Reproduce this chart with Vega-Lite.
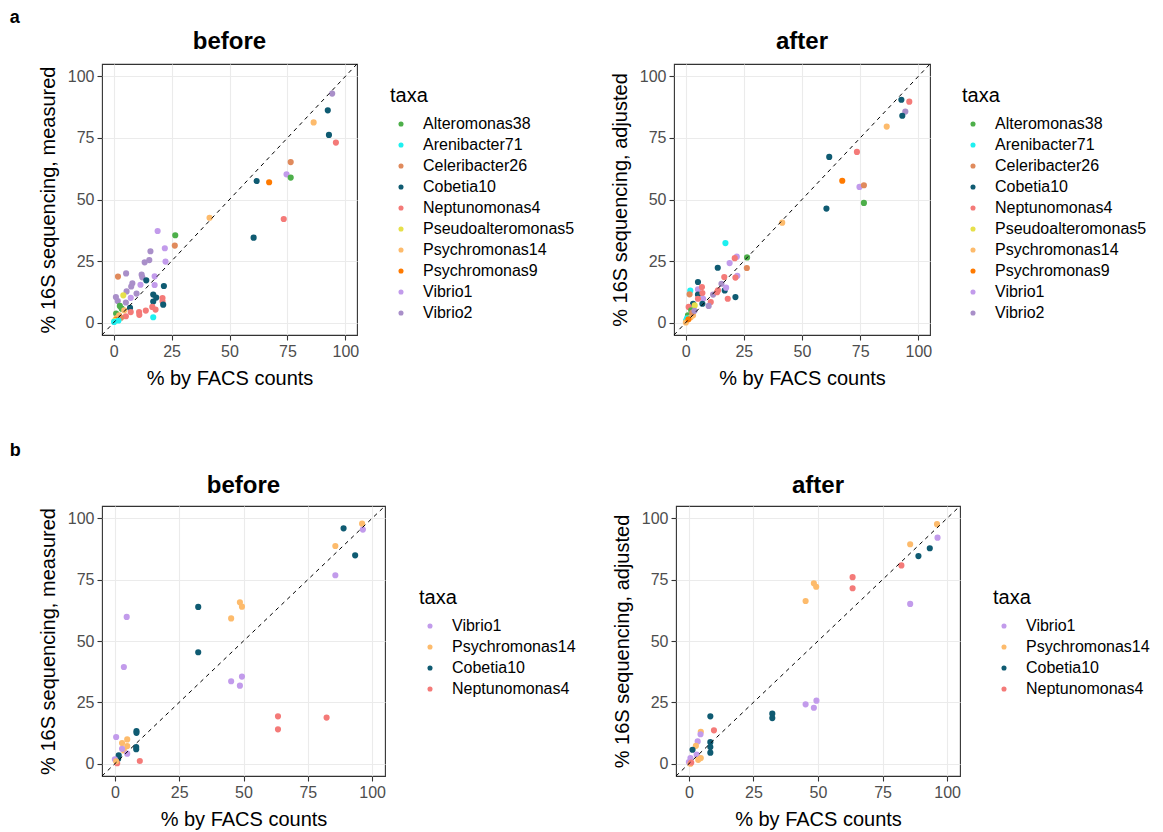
{
  "$schema": "https://vega.github.io/schema/vega-lite/v6.json",
  "background": "white",
  "padding": {"left": 9, "top": 8, "right": 5, "bottom": 5},
  "spacing": 52,
  "config": {
    "font": "Liberation Sans",
    "view": {"stroke": "#333333", "strokeWidth": 1.1},
    "axis": {"domain": false, "grid": true, "gridColor": "#ebebeb", "tickColor": "#333333", "tickSize": 5, "tickWidth": 1.1, "labelFontSize": 16, "labelColor": "#4d4d4d", "labelPadding": 3, "labelOverlap": false, "labelFlush": false, "titleFontSize": 20, "titleFontWeight": "normal", "titleColor": "black", "titlePadding": 9},
    "title": {"fontSize": 24, "fontWeight": "bold", "color": "black", "offset": 10},
    "legend": {"titleFontSize": 20, "titleFontWeight": "normal", "titleColor": "black", "labelFontSize": 16, "labelColor": "black", "symbolType": "circle", "symbolSize": 26, "symbolStrokeWidth": 0, "rowPadding": 5, "padding": 0, "titlePadding": 10, "symbolOffset": 3, "labelOffset": 14},
    "concat": {"spacing": 30}
  },
  "datasets": {
    "a_before": [
      {"taxa": "Vibrio2", "facs": 94.3, "seq": 93.0},
      {"taxa": "Cobetia10", "facs": 92.4, "seq": 86.2},
      {"taxa": "Psychromonas14", "facs": 86.3, "seq": 81.3},
      {"taxa": "Cobetia10", "facs": 92.9, "seq": 76.2},
      {"taxa": "Neptunomonas4", "facs": 95.9, "seq": 73.1},
      {"taxa": "Celeribacter26", "facs": 76.4, "seq": 65.2},
      {"taxa": "Vibrio1", "facs": 74.6, "seq": 60.2},
      {"taxa": "Alteromonas38", "facs": 76.4, "seq": 58.9},
      {"taxa": "Cobetia10", "facs": 61.7, "seq": 57.5},
      {"taxa": "Psychromonas9", "facs": 67.1, "seq": 57.0},
      {"taxa": "Neptunomonas4", "facs": 73.4, "seq": 42.1},
      {"taxa": "Psychromonas14", "facs": 41.4, "seq": 42.6},
      {"taxa": "Cobetia10", "facs": 60.4, "seq": 34.5},
      {"taxa": "Vibrio1", "facs": 19.0, "seq": 37.2},
      {"taxa": "Alteromonas38", "facs": 26.6, "seq": 35.5},
      {"taxa": "Celeribacter26", "facs": 26.4, "seq": 31.3},
      {"taxa": "Vibrio1", "facs": 22.1, "seq": 30.2},
      {"taxa": "Vibrio2", "facs": 15.9, "seq": 29.0},
      {"taxa": "Vibrio2", "facs": 15.4, "seq": 25.4},
      {"taxa": "Vibrio2", "facs": 13.4, "seq": 24.5},
      {"taxa": "Vibrio1", "facs": 22.4, "seq": 24.8},
      {"taxa": "Celeribacter26", "facs": 1.9, "seq": 18.7},
      {"taxa": "Vibrio2", "facs": 5.4, "seq": 20.0},
      {"taxa": "Vibrio2", "facs": 12.1, "seq": 19.5},
      {"taxa": "Vibrio2", "facs": 12.4, "seq": 18.4},
      {"taxa": "Cobetia10", "facs": 14.1, "seq": 17.2},
      {"taxa": "Vibrio1", "facs": 17.7, "seq": 18.8},
      {"taxa": "Vibrio2", "facs": 8.1, "seq": 16.0},
      {"taxa": "Vibrio2", "facs": 7.6, "seq": 14.7},
      {"taxa": "Vibrio1", "facs": 11.6, "seq": 15.4},
      {"taxa": "Vibrio1", "facs": 17.7, "seq": 15.3},
      {"taxa": "Cobetia10", "facs": 21.7, "seq": 14.9},
      {"taxa": "Vibrio2", "facs": 5.6, "seq": 12.7},
      {"taxa": "Vibrio2", "facs": 9.9, "seq": 11.8},
      {"taxa": "Cobetia10", "facs": 17.1, "seq": 11.4},
      {"taxa": "Cobetia10", "facs": 18.4, "seq": 10.2},
      {"taxa": "Neptunomonas4", "facs": 21.1, "seq": 10.0},
      {"taxa": "Neptunomonas4", "facs": 21.1, "seq": 8.7},
      {"taxa": "Cobetia10", "facs": 17.1, "seq": 8.6},
      {"taxa": "Cobetia10", "facs": 21.4, "seq": 7.3},
      {"taxa": "Pseudoalteromonas5", "facs": 4.2, "seq": 11.1},
      {"taxa": "Vibrio2", "facs": 1.0, "seq": 10.4},
      {"taxa": "Vibrio2", "facs": 1.8, "seq": 8.8},
      {"taxa": "Vibrio1", "facs": 7.4, "seq": 10.1},
      {"taxa": "Vibrio2", "facs": 5.3, "seq": 8.2},
      {"taxa": "Cobetia10", "facs": 7.1, "seq": 6.0},
      {"taxa": "Neptunomonas4", "facs": 11.0, "seq": 4.3},
      {"taxa": "Neptunomonas4", "facs": 11.1, "seq": 3.2},
      {"taxa": "Neptunomonas4", "facs": 13.9, "seq": 4.9},
      {"taxa": "Neptunomonas4", "facs": 16.7, "seq": 6.4},
      {"taxa": "Neptunomonas4", "facs": 18.1, "seq": 5.3},
      {"taxa": "Neptunomonas4", "facs": 7.4, "seq": 4.3},
      {"taxa": "Neptunomonas4", "facs": 5.3, "seq": 2.6},
      {"taxa": "Arenibacter71", "facs": 17.1, "seq": 2.2},
      {"taxa": "Alteromonas38", "facs": 2.7, "seq": 6.8},
      {"taxa": "Alteromonas38", "facs": 3.5, "seq": 5.7},
      {"taxa": "Alteromonas38", "facs": 1.1, "seq": 3.7},
      {"taxa": "Psychromonas14", "facs": 4.6, "seq": 5.0},
      {"taxa": "Psychromonas14", "facs": 2.4, "seq": 3.0},
      {"taxa": "Psychromonas14", "facs": 1.3, "seq": 1.9},
      {"taxa": "Celeribacter26", "facs": 3.2, "seq": 2.0},
      {"taxa": "Psychromonas9", "facs": 1.0, "seq": 1.2},
      {"taxa": "Pseudoalteromonas5", "facs": 0.5, "seq": 0.8},
      {"taxa": "Arenibacter71", "facs": 0.2, "seq": 0.3},
      {"taxa": "Arenibacter71", "facs": 2.1, "seq": 0.9}
    ],
    "a_after": [
      {"taxa": "Cobetia10", "facs": 92.7, "seq": 90.5},
      {"taxa": "Neptunomonas4", "facs": 96.1, "seq": 89.7},
      {"taxa": "Vibrio2", "facs": 94.4, "seq": 85.7},
      {"taxa": "Cobetia10", "facs": 93.1, "seq": 84.0},
      {"taxa": "Psychromonas14", "facs": 86.4, "seq": 79.6},
      {"taxa": "Cobetia10", "facs": 61.7, "seq": 67.3},
      {"taxa": "Neptunomonas4", "facs": 73.6, "seq": 69.3},
      {"taxa": "Psychromonas9", "facs": 67.3, "seq": 57.6},
      {"taxa": "Vibrio1", "facs": 74.7, "seq": 55.1},
      {"taxa": "Celeribacter26", "facs": 76.6, "seq": 55.8},
      {"taxa": "Alteromonas38", "facs": 76.6, "seq": 48.6},
      {"taxa": "Cobetia10", "facs": 60.5, "seq": 46.3},
      {"taxa": "Psychromonas14", "facs": 41.5, "seq": 40.6},
      {"taxa": "Arenibacter71", "facs": 17.1, "seq": 32.3},
      {"taxa": "Alteromonas38", "facs": 26.4, "seq": 26.5},
      {"taxa": "Celeribacter26", "facs": 26.3, "seq": 22.2},
      {"taxa": "Vibrio1", "facs": 22.0, "seq": 26.8},
      {"taxa": "Neptunomonas4", "facs": 21.1, "seq": 26.2},
      {"taxa": "Vibrio1", "facs": 18.9, "seq": 24.2},
      {"taxa": "Cobetia10", "facs": 13.8, "seq": 22.3},
      {"taxa": "Vibrio1", "facs": 22.2, "seq": 19.0},
      {"taxa": "Neptunomonas4", "facs": 21.4, "seq": 18.3},
      {"taxa": "Neptunomonas4", "facs": 16.6, "seq": 18.5},
      {"taxa": "Cobetia10", "facs": 5.3, "seq": 16.5},
      {"taxa": "Cobetia10", "facs": 21.4, "seq": 10.4},
      {"taxa": "Neptunomonas4", "facs": 18.1, "seq": 9.7},
      {"taxa": "Cobetia10", "facs": 16.8, "seq": 13.1},
      {"taxa": "Vibrio2", "facs": 15.4, "seq": 15.8},
      {"taxa": "Vibrio1", "facs": 17.4, "seq": 14.2},
      {"taxa": "Neptunomonas4", "facs": 13.9, "seq": 13.1},
      {"taxa": "Vibrio2", "facs": 11.8, "seq": 11.4},
      {"taxa": "Neptunomonas4", "facs": 13.5, "seq": 12.4},
      {"taxa": "Arenibacter71", "facs": 2.0, "seq": 13.0},
      {"taxa": "Celeribacter26", "facs": 1.7, "seq": 11.5},
      {"taxa": "Vibrio1", "facs": 5.3, "seq": 13.5},
      {"taxa": "Neptunomonas4", "facs": 7.0, "seq": 14.5},
      {"taxa": "Cobetia10", "facs": 5.3, "seq": 11.4},
      {"taxa": "Neptunomonas4", "facs": 7.2, "seq": 12.0},
      {"taxa": "Vibrio1", "facs": 7.5, "seq": 9.7},
      {"taxa": "Neptunomonas4", "facs": 5.3, "seq": 9.7},
      {"taxa": "Neptunomonas4", "facs": 10.8, "seq": 8.4},
      {"taxa": "Vibrio2", "facs": 9.9, "seq": 6.8},
      {"taxa": "Cobetia10", "facs": 3.2, "seq": 7.7},
      {"taxa": "Cobetia10", "facs": 7.2, "seq": 7.7},
      {"taxa": "Neptunomonas4", "facs": 1.3, "seq": 6.4},
      {"taxa": "Pseudoalteromonas5", "facs": 3.9, "seq": 7.0},
      {"taxa": "Alteromonas38", "facs": 1.0, "seq": 3.0},
      {"taxa": "Alteromonas38", "facs": 2.4, "seq": 5.0},
      {"taxa": "Psychromonas14", "facs": 3.2, "seq": 3.0},
      {"taxa": "Psychromonas14", "facs": 2.2, "seq": 2.2},
      {"taxa": "Arenibacter71", "facs": 0.2, "seq": 0.9},
      {"taxa": "Arenibacter71", "facs": 0.6, "seq": 1.8},
      {"taxa": "Psychromonas14", "facs": 0.1, "seq": 0.1},
      {"taxa": "Celeribacter26", "facs": 2.8, "seq": 4.0},
      {"taxa": "Psychromonas9", "facs": 1.2, "seq": 1.4},
      {"taxa": "Vibrio2", "facs": 3.8, "seq": 4.8}
    ],
    "b_before": [
      {"taxa": "Psychromonas14", "facs": 96.1, "seq": 97.8},
      {"taxa": "Vibrio1", "facs": 96.4, "seq": 95.4},
      {"taxa": "Cobetia10", "facs": 88.9, "seq": 95.9},
      {"taxa": "Psychromonas14", "facs": 85.7, "seq": 88.7},
      {"taxa": "Cobetia10", "facs": 93.4, "seq": 84.9},
      {"taxa": "Vibrio1", "facs": 85.7, "seq": 76.8},
      {"taxa": "Cobetia10", "facs": 32.4, "seq": 63.9},
      {"taxa": "Psychromonas14", "facs": 48.6, "seq": 65.8},
      {"taxa": "Psychromonas14", "facs": 49.4, "seq": 64.0},
      {"taxa": "Psychromonas14", "facs": 45.2, "seq": 59.2},
      {"taxa": "Vibrio1", "facs": 4.6, "seq": 59.8},
      {"taxa": "Vibrio1", "facs": 3.5, "seq": 39.4},
      {"taxa": "Cobetia10", "facs": 32.4, "seq": 45.4},
      {"taxa": "Vibrio1", "facs": 45.2, "seq": 33.6},
      {"taxa": "Vibrio1", "facs": 49.4, "seq": 35.5},
      {"taxa": "Vibrio1", "facs": 48.6, "seq": 31.8},
      {"taxa": "Neptunomonas4", "facs": 63.4, "seq": 19.3},
      {"taxa": "Neptunomonas4", "facs": 63.4, "seq": 14.0},
      {"taxa": "Neptunomonas4", "facs": 82.3, "seq": 18.8},
      {"taxa": "Neptunomonas4", "facs": 9.7, "seq": 1.1},
      {"taxa": "Cobetia10", "facs": 8.4, "seq": 13.3},
      {"taxa": "Cobetia10", "facs": 8.4, "seq": 12.6},
      {"taxa": "Cobetia10", "facs": 8.3, "seq": 6.8},
      {"taxa": "Cobetia10", "facs": 8.3, "seq": 5.9},
      {"taxa": "Vibrio1", "facs": 0.5, "seq": 10.9},
      {"taxa": "Psychromonas14", "facs": 4.8, "seq": 9.9},
      {"taxa": "Psychromonas14", "facs": 2.8, "seq": 8.4},
      {"taxa": "Psychromonas14", "facs": 4.8, "seq": 7.2},
      {"taxa": "Psychromonas14", "facs": 3.5, "seq": 5.4},
      {"taxa": "Vibrio1", "facs": 2.8, "seq": 6.1},
      {"taxa": "Vibrio1", "facs": 4.8, "seq": 4.1},
      {"taxa": "Cobetia10", "facs": 1.5, "seq": 3.4},
      {"taxa": "Cobetia10", "facs": 1.3, "seq": 2.0},
      {"taxa": "Vibrio1", "facs": 0.0, "seq": 1.8},
      {"taxa": "Neptunomonas4", "facs": 0.9, "seq": 0.2},
      {"taxa": "Psychromonas14", "facs": 0.5, "seq": 1.0}
    ],
    "b_after": [
      {"taxa": "Psychromonas14", "facs": 96.1, "seq": 97.6},
      {"taxa": "Vibrio1", "facs": 96.3, "seq": 92.1},
      {"taxa": "Psychromonas14", "facs": 85.7, "seq": 89.4},
      {"taxa": "Cobetia10", "facs": 93.3, "seq": 87.8},
      {"taxa": "Cobetia10", "facs": 88.9, "seq": 84.6},
      {"taxa": "Neptunomonas4", "facs": 82.3, "seq": 80.8},
      {"taxa": "Neptunomonas4", "facs": 63.4, "seq": 76.0},
      {"taxa": "Neptunomonas4", "facs": 63.4, "seq": 71.5},
      {"taxa": "Vibrio1", "facs": 85.7, "seq": 65.1},
      {"taxa": "Psychromonas14", "facs": 48.4, "seq": 73.5},
      {"taxa": "Psychromonas14", "facs": 49.3, "seq": 72.1},
      {"taxa": "Psychromonas14", "facs": 45.2, "seq": 66.3},
      {"taxa": "Vibrio1", "facs": 49.4, "seq": 25.7},
      {"taxa": "Vibrio1", "facs": 45.2, "seq": 24.2},
      {"taxa": "Vibrio1", "facs": 48.4, "seq": 22.8},
      {"taxa": "Cobetia10", "facs": 32.3, "seq": 20.4},
      {"taxa": "Cobetia10", "facs": 32.3, "seq": 18.6},
      {"taxa": "Cobetia10", "facs": 8.3, "seq": 19.3},
      {"taxa": "Neptunomonas4", "facs": 9.7, "seq": 13.6},
      {"taxa": "Psychromonas14", "facs": 4.6, "seq": 13.0},
      {"taxa": "Vibrio1", "facs": 4.5, "seq": 12.0},
      {"taxa": "Vibrio1", "facs": 3.4, "seq": 9.1},
      {"taxa": "Psychromonas14", "facs": 2.7, "seq": 7.3},
      {"taxa": "Cobetia10", "facs": 1.4, "seq": 5.7},
      {"taxa": "Cobetia10", "facs": 8.3, "seq": 8.8},
      {"taxa": "Cobetia10", "facs": 8.3, "seq": 6.8},
      {"taxa": "Cobetia10", "facs": 8.3, "seq": 4.5},
      {"taxa": "Vibrio1", "facs": 3.0, "seq": 3.7},
      {"taxa": "Psychromonas14", "facs": 4.6, "seq": 2.3},
      {"taxa": "Psychromonas14", "facs": 3.6, "seq": 1.6},
      {"taxa": "Vibrio1", "facs": 0.6, "seq": 2.3},
      {"taxa": "Vibrio1", "facs": 0.0, "seq": 0.7},
      {"taxa": "Psychromonas14", "facs": 0.6, "seq": 0.0},
      {"taxa": "Neptunomonas4", "facs": 0.9, "seq": 0.5}
    ]
  },
  "vconcat": [
    {
      "title": {"text": "a", "anchor": "start", "frame": "bounds", "fontSize": 18, "dx": -28, "offset": 2},
      "spacing": 33,
      "resolve": {"scale": {"color": "independent"}, "legend": {"color": "independent"}},
      "hconcat": [
        {
          "width": 255, "height": 271,
          "title": "before",
          "layer": [
            {"data": {"name": "a_before"}, "mark": {"type": "circle", "size": 38, "opacity": 1},
             "encoding": {
               "x": {"field": "facs", "type": "quantitative", "scale": {"domain": [-5, 105], "nice": false, "zero": false},
                     "axis": {"title": "% by FACS counts", "values": [0, 12.5, 25, 37.5, 50, 62.5, 75, 87.5, 100], "labelExpr": "datum.value % 25 === 0 ? datum.label : ''",
                              "gridWidth": {"condition": {"test": "datum.value % 25 === 0", "value": 1.1}, "value": 0.55},
                              "tickOpacity": {"condition": {"test": "datum.value % 25 === 0", "value": 1}, "value": 0}}},
               "y": {"field": "seq", "type": "quantitative", "scale": {"domain": [-5, 105], "nice": false, "zero": false},
                     "axis": {"title": "% 16S sequencing, measured", "values": [0, 12.5, 25, 37.5, 50, 62.5, 75, 87.5, 100], "labelExpr": "datum.value % 25 === 0 ? datum.label : ''",
                              "gridWidth": {"condition": {"test": "datum.value % 25 === 0", "value": 1.1}, "value": 0.55},
                              "tickOpacity": {"condition": {"test": "datum.value % 25 === 0", "value": 1}, "value": 0}}},
               "color": {"field": "taxa", "type": "nominal",
                         "scale": {"domain": ["Alteromonas38", "Arenibacter71", "Celeribacter26", "Cobetia10", "Neptunomonas4", "Pseudoalteromonas5", "Psychromonas14", "Psychromonas9", "Vibrio1", "Vibrio2"],
                                   "range": ["#4DAF4A", "#1EF0F0", "#E08A5C", "#0F5B72", "#F47A78", "#E6E04A", "#FDBB6C", "#FF7A00", "#C29BEB", "#A98FC9"]},
                         "legend": {"title": "taxa", "orient": "none", "legendX": 288, "legendY": 22}}
             }},
            {"data": {"values": [{}]}, "mark": {"type": "rule", "strokeDash": [4, 4], "color": "black", "strokeWidth": 1},
             "encoding": {"x": {"datum": -5, "type": "quantitative"}, "y": {"datum": -5, "type": "quantitative"}, "x2": {"datum": 105}, "y2": {"datum": 105}}}
          ]
        },
        {
          "width": 256, "height": 271,
          "title": "after",
          "layer": [
            {"data": {"name": "a_after"}, "mark": {"type": "circle", "size": 38, "opacity": 1},
             "encoding": {
               "x": {"field": "facs", "type": "quantitative", "scale": {"domain": [-5, 105], "nice": false, "zero": false},
                     "axis": {"title": "% by FACS counts", "values": [0, 12.5, 25, 37.5, 50, 62.5, 75, 87.5, 100], "labelExpr": "datum.value % 25 === 0 ? datum.label : ''",
                              "gridWidth": {"condition": {"test": "datum.value % 25 === 0", "value": 1.1}, "value": 0.55},
                              "tickOpacity": {"condition": {"test": "datum.value % 25 === 0", "value": 1}, "value": 0}}},
               "y": {"field": "seq", "type": "quantitative", "scale": {"domain": [-5, 105], "nice": false, "zero": false},
                     "axis": {"title": "% 16S sequencing, adjusted", "values": [0, 12.5, 25, 37.5, 50, 62.5, 75, 87.5, 100], "labelExpr": "datum.value % 25 === 0 ? datum.label : ''",
                              "gridWidth": {"condition": {"test": "datum.value % 25 === 0", "value": 1.1}, "value": 0.55},
                              "tickOpacity": {"condition": {"test": "datum.value % 25 === 0", "value": 1}, "value": 0}}},
               "color": {"field": "taxa", "type": "nominal",
                         "scale": {"domain": ["Alteromonas38", "Arenibacter71", "Celeribacter26", "Cobetia10", "Neptunomonas4", "Pseudoalteromonas5", "Psychromonas14", "Psychromonas9", "Vibrio1", "Vibrio2"],
                                   "range": ["#4DAF4A", "#1EF0F0", "#E08A5C", "#0F5B72", "#F47A78", "#E6E04A", "#FDBB6C", "#FF7A00", "#C29BEB", "#A98FC9"]},
                         "legend": {"title": "taxa", "orient": "none", "legendX": 288, "legendY": 22}}
             }},
            {"data": {"values": [{}]}, "mark": {"type": "rule", "strokeDash": [4, 4], "color": "black", "strokeWidth": 1},
             "encoding": {"x": {"datum": -5, "type": "quantitative"}, "y": {"datum": -5, "type": "quantitative"}, "x2": {"datum": 105}, "y2": {"datum": 105}}}
          ]
        }
      ]
    },
    {
      "title": {"text": "b", "anchor": "start", "frame": "bounds", "fontSize": 18, "dx": -28, "offset": 13},
      "spacing": 34,
      "resolve": {"scale": {"color": "independent"}, "legend": {"color": "independent"}},
      "hconcat": [
        {
          "width": 283, "height": 270,
          "title": {"text": "before", "offset": 8},
          "layer": [
            {"data": {"name": "b_before"}, "mark": {"type": "circle", "size": 38, "opacity": 1},
             "encoding": {
               "x": {"field": "facs", "type": "quantitative", "scale": {"domain": [-5, 105], "nice": false, "zero": false},
                     "axis": {"title": "% by FACS counts", "values": [0, 12.5, 25, 37.5, 50, 62.5, 75, 87.5, 100], "labelExpr": "datum.value % 25 === 0 ? datum.label : ''",
                              "gridWidth": {"condition": {"test": "datum.value % 25 === 0", "value": 1.1}, "value": 0.55},
                              "tickOpacity": {"condition": {"test": "datum.value % 25 === 0", "value": 1}, "value": 0}}},
               "y": {"field": "seq", "type": "quantitative", "scale": {"domain": [-5, 105], "nice": false, "zero": false},
                     "axis": {"title": "% 16S sequencing, measured", "values": [0, 12.5, 25, 37.5, 50, 62.5, 75, 87.5, 100], "labelExpr": "datum.value % 25 === 0 ? datum.label : ''",
                              "gridWidth": {"condition": {"test": "datum.value % 25 === 0", "value": 1.1}, "value": 0.55},
                              "tickOpacity": {"condition": {"test": "datum.value % 25 === 0", "value": 1}, "value": 0}}},
               "color": {"field": "taxa", "type": "nominal",
                         "scale": {"domain": ["Vibrio1", "Psychromonas14", "Cobetia10", "Neptunomonas4"],
                                   "range": ["#C29BEB", "#FDBB6C", "#0F5B72", "#F47A78"]},
                         "legend": {"title": "taxa", "orient": "none", "legendX": 317, "legendY": 82}}
             }},
            {"data": {"values": [{}]}, "mark": {"type": "rule", "strokeDash": [4, 4], "color": "black", "strokeWidth": 1},
             "encoding": {"x": {"datum": -5, "type": "quantitative"}, "y": {"datum": -5, "type": "quantitative"}, "x2": {"datum": 105}, "y2": {"datum": 105}}}
          ]
        },
        {
          "width": 284, "height": 270,
          "title": {"text": "after", "offset": 8},
          "layer": [
            {"data": {"name": "b_after"}, "mark": {"type": "circle", "size": 38, "opacity": 1},
             "encoding": {
               "x": {"field": "facs", "type": "quantitative", "scale": {"domain": [-5, 105], "nice": false, "zero": false},
                     "axis": {"title": "% by FACS counts", "values": [0, 12.5, 25, 37.5, 50, 62.5, 75, 87.5, 100], "labelExpr": "datum.value % 25 === 0 ? datum.label : ''",
                              "gridWidth": {"condition": {"test": "datum.value % 25 === 0", "value": 1.1}, "value": 0.55},
                              "tickOpacity": {"condition": {"test": "datum.value % 25 === 0", "value": 1}, "value": 0}}},
               "y": {"field": "seq", "type": "quantitative", "scale": {"domain": [-5, 105], "nice": false, "zero": false},
                     "axis": {"title": "% 16S sequencing, adjusted", "values": [0, 12.5, 25, 37.5, 50, 62.5, 75, 87.5, 100], "labelExpr": "datum.value % 25 === 0 ? datum.label : ''",
                              "gridWidth": {"condition": {"test": "datum.value % 25 === 0", "value": 1.1}, "value": 0.55},
                              "tickOpacity": {"condition": {"test": "datum.value % 25 === 0", "value": 1}, "value": 0}}},
               "color": {"field": "taxa", "type": "nominal",
                         "scale": {"domain": ["Vibrio1", "Psychromonas14", "Cobetia10", "Neptunomonas4"],
                                   "range": ["#C29BEB", "#FDBB6C", "#0F5B72", "#F47A78"]},
                         "legend": {"title": "taxa", "orient": "none", "legendX": 317, "legendY": 82}}
             }},
            {"data": {"values": [{}]}, "mark": {"type": "rule", "strokeDash": [4, 4], "color": "black", "strokeWidth": 1},
             "encoding": {"x": {"datum": -5, "type": "quantitative"}, "y": {"datum": -5, "type": "quantitative"}, "x2": {"datum": 105}, "y2": {"datum": 105}}}
          ]
        }
      ]
    }
  ]
}
